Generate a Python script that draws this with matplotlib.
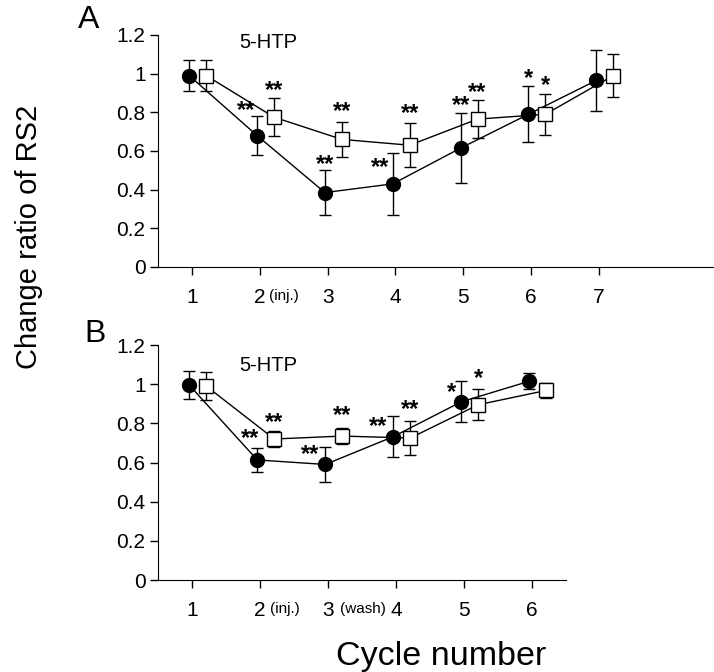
import matplotlib
matplotlib.use("Agg")
import matplotlib.pyplot as plt
import matplotlib.transforms as mtransforms
import numpy as np

plt.rcParams['font.family'] = ['Liberation Sans', 'DejaVu Sans']

# panel A : 7 cycles
a_cycle = [1, 2, 3, 4, 5, 6, 7]
a_circ = [0.99, 0.68, 0.385, 0.43, 0.615, 0.79, 0.965]
a_circ_err = [0.08, 0.10, 0.115, 0.16, 0.18, 0.145, 0.16]
a_sq = [0.99, 0.775, 0.66, 0.63, 0.765, 0.79, 0.99]
a_sq_err = [0.08, 0.10, 0.09, 0.115, 0.10, 0.107, 0.113]
a_circ_sig = ['', '**', '**', '**', '**', '*', '']
a_sq_sig = ['', '**', '**', '**', '**', '*', '']

# panel B : 6 cycles
b_cycle = [1, 2, 3, 4, 5, 6]
b_circ = [0.995, 0.613, 0.59, 0.732, 0.91, 1.015]
b_circ_err = [0.07, 0.062, 0.09, 0.105, 0.105, 0.04]
b_sq = [0.99, 0.72, 0.735, 0.725, 0.895, 0.968]
b_sq_err = [0.07, 0.04, 0.04, 0.088, 0.08, 0.04]
b_circ_sig = ['', '**', '**', '**', '*', '']
b_sq_sig = ['', '**', '**', '**', '*', '']

y_ticks = [0, 0.2, 0.4, 0.6, 0.8, 1.0, 1.2]
y_ticklabels = ['0', '0.2', '0.4', '0.6', '0.8', '1', '1.2']

# star placement (x shift, y shift from error bar top), data units
a_circ_off = [(0, 0), (-0.16, 0.03), (0, 0.03), (-0.18, -0.075), (0, 0.04), (0, 0.04), (0, 0)]
a_sq_off = [(0, 0)] + [(0, 0.04), (0, 0.055), (0, 0.05), (0, 0.04), (0, 0.04)] + [(0, 0)]
b_circ_off = [(0, 0), (-0.1, 0.05), (-0.23, -0.04), (-0.22, -0.055), (-0.15, -0.056), (0, 0)]
b_sq_off = [(0, 0), (0, 0.043), (0, 0.066), (0, 0.06), (0, 0.056), (0, 0)]

fig = plt.figure(figsize=(7.14, 6.72), dpi=100)
axA = fig.add_axes([158 / 714, 1 - 267 / 672, 556 / 714, 232 / 672])
axB = fig.add_axes([158 / 714, 1 - 580 / 672, 408 / 714, 235 / 672])


def panel(ax, cyc, circ, circ_err, sq, sq_err, csig, ssig, coff, soff, xmax, notes):
    cyc = np.array(cyc, dtype=float)
    xc = cyc - 0.04
    xs = cyc + 0.21
    ax.errorbar(xc, circ, yerr=circ_err, fmt='o-', color='black', ms=10,
                mfc='black', mec='black', lw=1, elinewidth=1, capsize=4,
                capthick=1, zorder=3)
    ax.errorbar(xs, sq, yerr=sq_err, fmt='s-', color='black', ms=10,
                mfc='white', mec='black', mew=1, lw=1, elinewidth=1,
                capsize=4, capthick=1, zorder=3)
    for i in range(len(cyc)):
        if csig[i]:
            ax.text(xc[i] + coff[i][0], circ[i] + circ_err[i] + coff[i][1], csig[i],
                    ha='center', va='center', fontsize=17, fontweight='bold')
        if ssig[i]:
            ax.text(xs[i] + soff[i][0], sq[i] + sq_err[i] + soff[i][1], ssig[i],
                    ha='center', va='center', fontsize=17, fontweight='bold')
    ax.set_xlim(0.5, xmax)
    ax.set_ylim(0, 1.2)
    ax.set_xticks(cyc)
    ax.set_xticklabels([str(int(c)) for c in cyc])
    ax.set_yticks(y_ticks)
    ax.set_yticklabels(y_ticklabels)
    ax.spines['top'].set_visible(False)
    ax.spines['right'].set_visible(False)
    ax.tick_params(direction='out', length=6, width=1, labelsize=15)
    ax.tick_params(axis='y', pad=3)
    ax.tick_params(axis='x', pad=9)
    trans = mtransforms.blended_transform_factory(ax.transData, ax.transAxes)
    for xn, lab in notes:
        ax.text(xn, -0.125, lab, transform=trans, ha='center', va='center', fontsize=11)


panel(axA, a_cycle, a_circ, a_circ_err, a_sq, a_sq_err, a_circ_sig, a_sq_sig,
      a_circ_off, a_sq_off, 8.695, [(2.36, '(inj.)')])
panel(axB, b_cycle, b_circ, b_circ_err, b_sq, b_sq_err, b_circ_sig, b_sq_sig,
      b_circ_off, b_sq_off, 6.5, [(2.36, '(inj.)'), (3.52, '(wash)')])

axA.text(1.7, 1.16, '5-HTP', ha='left', va='center', fontsize=14.5)
axB.text(1.7, 1.093, '5-HTP', ha='left', va='center', fontsize=14.5)

fig.text(89 / 714, 1 - 20 / 672, 'A', ha='center', va='center', fontsize=23)
fig.text(95 / 714, 1 - 334 / 672, 'B', ha='center', va='center', fontsize=23)
fig.text(29 / 714, 1 - 237 / 672, 'Change ratio of RS2', rotation=90,
         ha='center', va='center', fontsize=21)
fig.text(441 / 714, 1 - 657 / 672, 'Cycle number', ha='center', va='center', fontsize=24.5)

fig.savefig('out.png', dpi=100)
